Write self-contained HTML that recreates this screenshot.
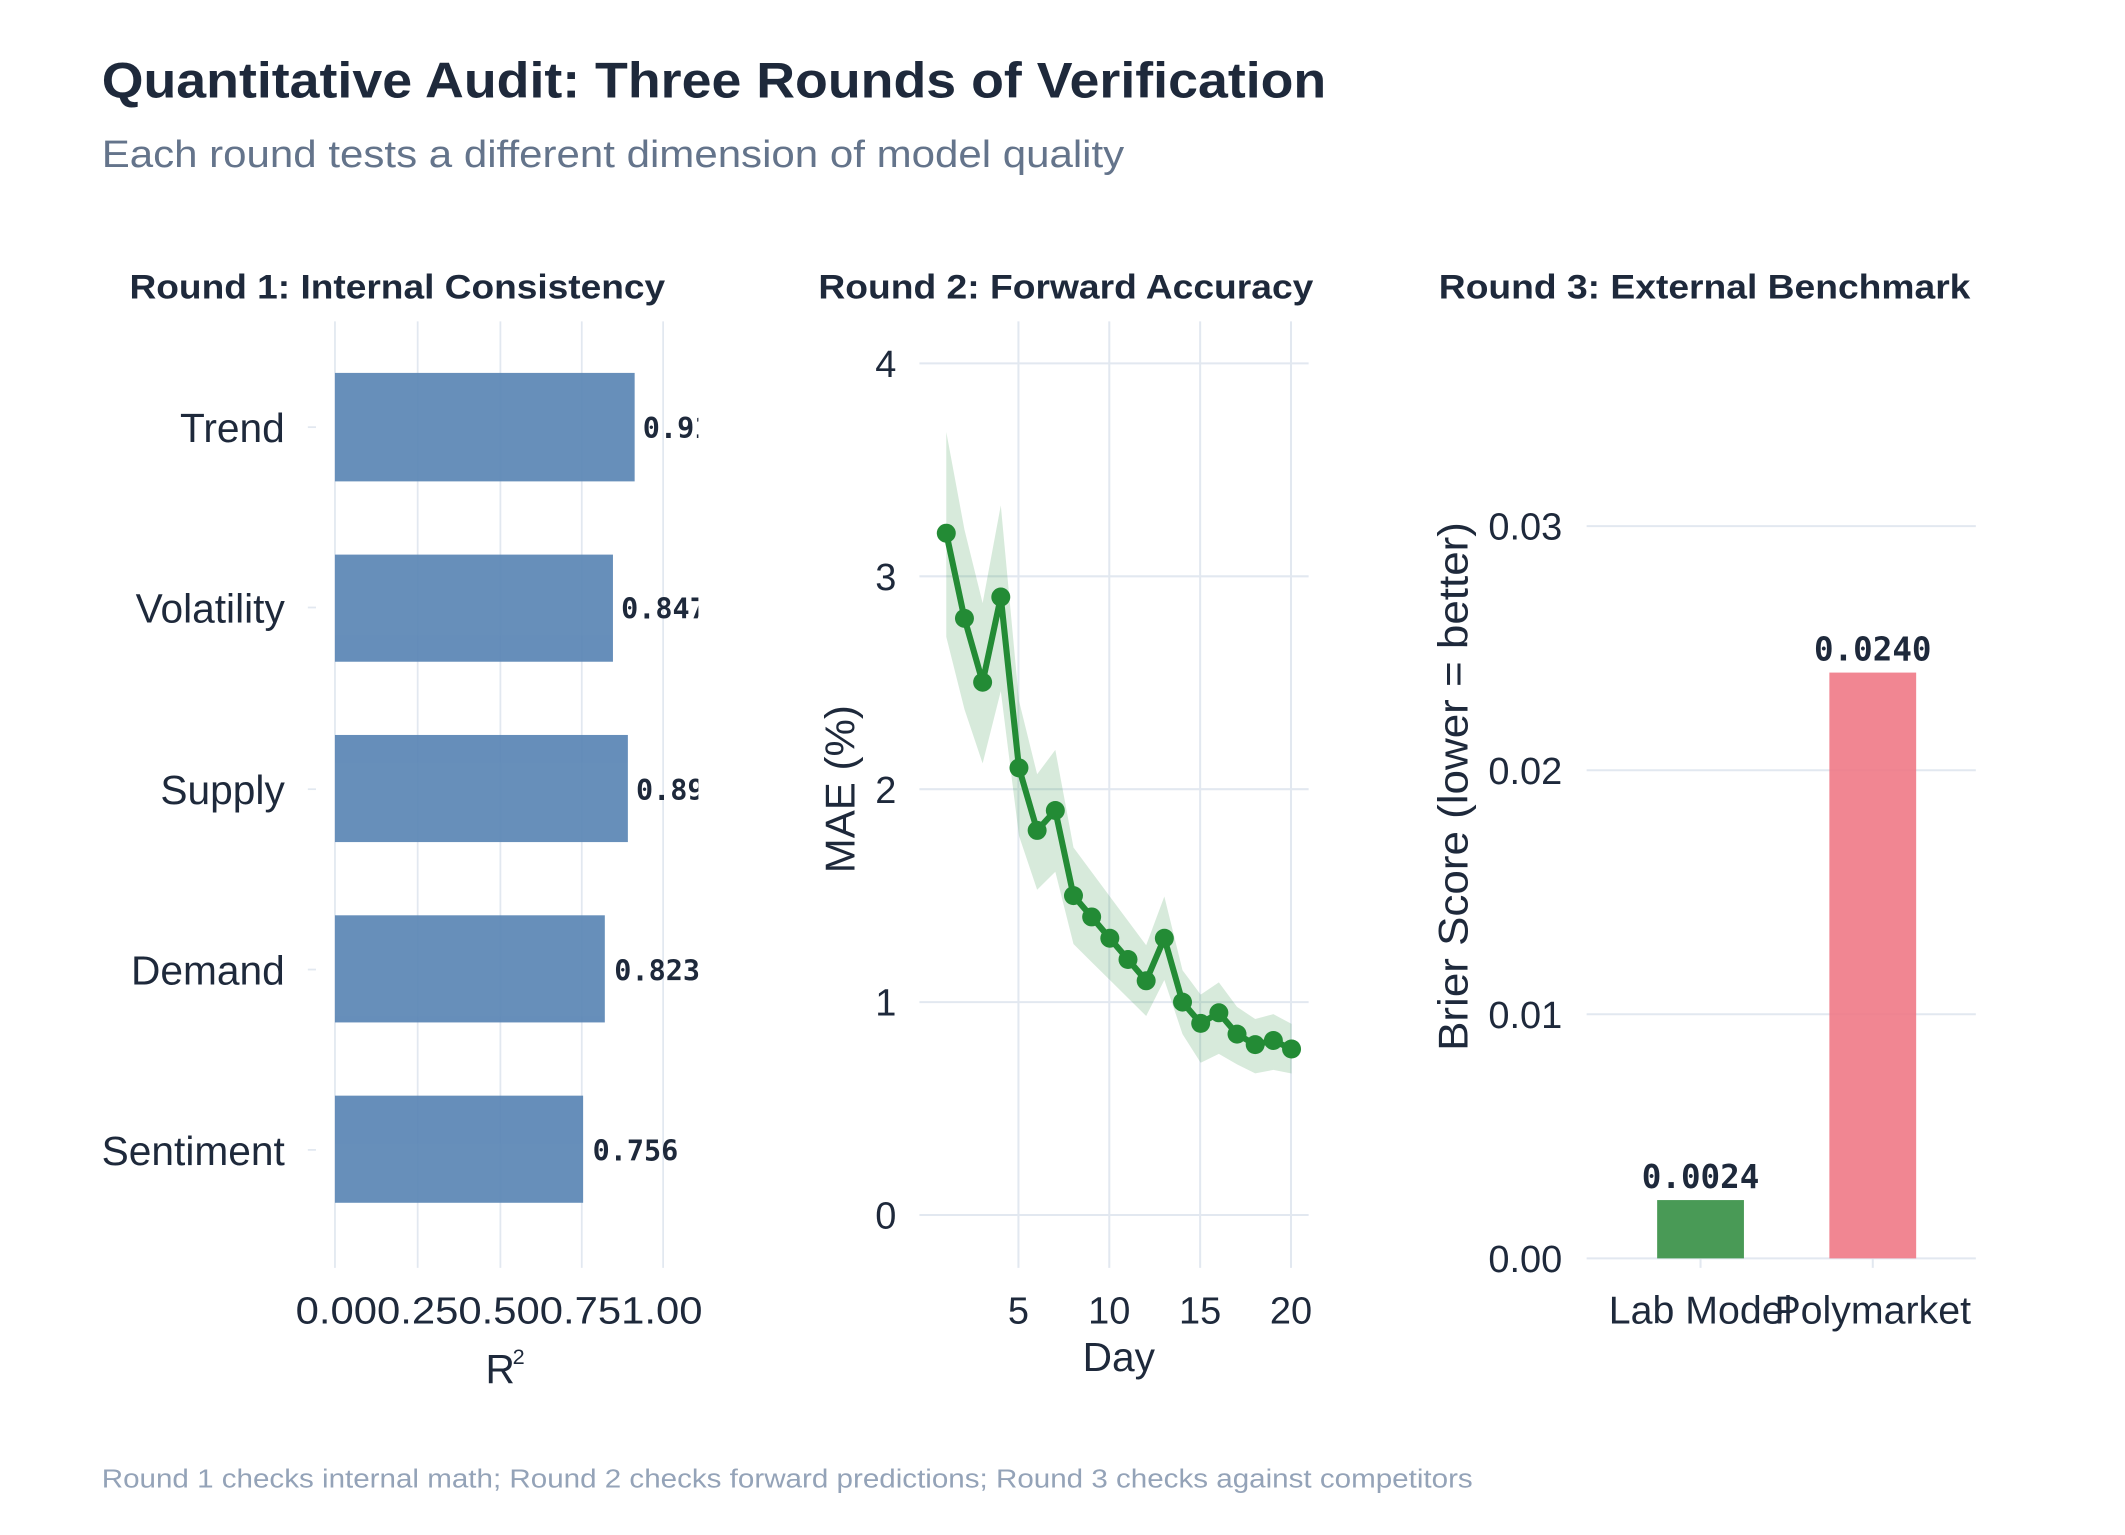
<!DOCTYPE html>
<html><head><meta charset="utf-8"><style>
html,body{margin:0;padding:0;background:#fff;}
svg{display:block;}
text{font-family:"Liberation Sans",sans-serif;}
.mono{font-family:"DejaVu Sans Mono","Liberation Mono",monospace;font-weight:bold;}
</style></head><body>
<svg width="2125" height="1535" viewBox="0 0 1567 1132" preserveAspectRatio="none" xmlns="http://www.w3.org/2000/svg">
<rect width="1567" height="1132" fill="#fff"/>
<text x="75" y="72" font-size="37" font-weight="bold" fill="#1e293b" textLength="903" lengthAdjust="spacingAndGlyphs">Quantitative Audit: Three Rounds of Verification</text>
<text x="75" y="123" font-size="28" fill="#64748b" textLength="754" lengthAdjust="spacingAndGlyphs">Each round tests a different dimension of model quality</text>
<text x="75" y="1097" font-size="19" fill="#94a3b8" textLength="1011" lengthAdjust="spacingAndGlyphs">Round 1 checks internal math; Round 2 checks forward predictions; Round 3 checks against competitors</text>

<!-- Panel 1 -->
<text x="293" y="220" font-size="25" font-weight="bold" fill="#1e293b" text-anchor="middle" textLength="395" lengthAdjust="spacingAndGlyphs">Round 1: Internal Consistency</text>
<g stroke="#e2e8f0" stroke-width="1.3">
<line x1="247" y1="237" x2="247" y2="935"/><line x1="308" y1="237" x2="308" y2="935"/>
<line x1="369" y1="237" x2="369" y2="935"/><line x1="429" y1="237" x2="429" y2="935"/>
<line x1="489" y1="237" x2="489" y2="935"/>
<line x1="227" y1="315" x2="233" y2="315"/><line x1="227" y1="448" x2="233" y2="448"/>
<line x1="227" y1="582" x2="233" y2="582"/><line x1="227" y1="715" x2="233" y2="715"/>
<line x1="227" y1="848" x2="233" y2="848"/>
</g>
<g fill="#5b86b5" opacity="0.93">
<rect x="247" y="275" width="221" height="80"/>
<rect x="247" y="409" width="205" height="79"/>
<rect x="247" y="542" width="216" height="79"/>
<rect x="247" y="675" width="199" height="79"/>
<rect x="247" y="808" width="183" height="79"/>
</g>
<defs><clipPath id="c1"><rect x="240" y="230" width="275" height="720"/></clipPath></defs>
<g clip-path="url(#c1)" font-size="21" fill="#1e293b">
<text x="474" y="323" class="mono">0.910</text>
<text x="458" y="456" class="mono">0.847</text>
<text x="469" y="590" class="mono">0.892</text>
<text x="453" y="723" class="mono">0.823</text>
<text x="437" y="856" class="mono">0.756</text>
</g>
<g font-size="30" fill="#1e293b" text-anchor="end">
<text x="210" y="326">Trend</text><text x="210" y="459">Volatility</text>
<text x="210" y="593">Supply</text><text x="210" y="726">Demand</text>
<text x="210" y="859">Sentiment</text>
</g>
<text x="368" y="976" font-size="28" fill="#1e293b" text-anchor="middle" textLength="300" lengthAdjust="spacingAndGlyphs">0.000.250.500.751.00</text>
<text x="358" y="1020" font-size="30" fill="#1e293b">R</text><text x="378" y="1006" font-size="16" fill="#1e293b">2</text>

<!-- Panel 2 -->
<text x="786" y="220" font-size="25" font-weight="bold" fill="#1e293b" text-anchor="middle" textLength="365" lengthAdjust="spacingAndGlyphs">Round 2: Forward Accuracy</text>
<g stroke="#e2e8f0" stroke-width="1.5">
<line x1="678" y1="268" x2="965" y2="268"/><line x1="678" y1="425" x2="965" y2="425"/>
<line x1="678" y1="582" x2="965" y2="582"/><line x1="678" y1="739" x2="965" y2="739"/>
<line x1="678" y1="896" x2="965" y2="896"/>
<line x1="751" y1="237" x2="751" y2="935"/><line x1="818" y1="237" x2="818" y2="935"/>
<line x1="885" y1="237" x2="885" y2="935"/><line x1="952" y1="237" x2="952" y2="935"/>
</g>
<g font-size="28" fill="#1e293b" text-anchor="end">
<text x="661" y="278">4</text><text x="661" y="435">3</text><text x="661" y="592">2</text>
<text x="661" y="749">1</text><text x="661" y="906">0</text>
</g>
<g font-size="28" fill="#1e293b" text-anchor="middle">
<text x="751" y="976">5</text><text x="818" y="976">10</text><text x="885" y="976">15</text><text x="952" y="976">20</text>
<text x="825" y="1011" font-size="30">Day</text>
</g>
<text transform="translate(630,582) rotate(-90)" font-size="31" fill="#1e293b" text-anchor="middle">MAE (%)</text>
<polygon fill="#238b35" fill-opacity="0.18" points="697.8,318.6 711.2,390.6 724.6,444.8 738.0,372.7 751.4,516.8 764.8,571.0 778.2,553.0 791.6,625.0 805.0,643.1 818.4,661.1 831.8,679.1 845.2,697.1 858.6,661.1 872.0,715.5 885.4,733.5 898.8,724.5 912.2,742.5 925.6,751.5 939.0,747.9 952.4,755.1 952.4,791.7 939.0,789.0 925.6,791.6 912.2,784.9 898.8,777.2 885.4,783.7 872.0,762.6 858.6,722.7 845.2,749.3 831.8,736.0 818.4,722.7 805.0,709.5 791.6,696.2 778.2,642.9 764.8,656.2 751.4,616.3 738.0,509.7 724.6,563.0 711.2,523.0 697.8,469.7"/>
<polyline fill="none" stroke="#238b35" stroke-width="4.5" stroke-linejoin="round" points="697.8,393.2 711.2,456.0 724.6,503.1 738.0,440.3 751.4,566.3 764.8,612.4 778.2,597.7 791.6,660.5 805.0,676.2 818.4,691.9 831.8,707.6 845.2,723.3 858.6,691.9 872.0,739.0 885.4,754.7 898.8,746.9 912.2,762.6 925.6,770.4 939.0,767.3 952.4,773.6"/>
<g fill="#238b35">
<circle cx="697.8" cy="393.2" r="7"/><circle cx="711.2" cy="456.0" r="7"/><circle cx="724.6" cy="503.1" r="7"/><circle cx="738.0" cy="440.3" r="7"/><circle cx="751.4" cy="566.3" r="7"/><circle cx="764.8" cy="612.4" r="7"/><circle cx="778.2" cy="597.7" r="7"/><circle cx="791.6" cy="660.5" r="7"/><circle cx="805.0" cy="676.2" r="7"/><circle cx="818.4" cy="691.9" r="7"/><circle cx="831.8" cy="707.6" r="7"/><circle cx="845.2" cy="723.3" r="7"/><circle cx="858.6" cy="691.9" r="7"/><circle cx="872.0" cy="739.0" r="7"/><circle cx="885.4" cy="754.7" r="7"/><circle cx="898.8" cy="746.9" r="7"/><circle cx="912.2" cy="762.6" r="7"/><circle cx="925.6" cy="770.4" r="7"/><circle cx="939.0" cy="767.3" r="7"/><circle cx="952.4" cy="773.6" r="7"/>
</g>

<!-- Panel 3 -->
<text x="1257" y="220" font-size="25" font-weight="bold" fill="#1e293b" text-anchor="middle" textLength="392" lengthAdjust="spacingAndGlyphs">Round 3: External Benchmark</text>
<g stroke="#e2e8f0" stroke-width="1.5">
<line x1="1170" y1="388" x2="1457" y2="388"/><line x1="1170" y1="568" x2="1457" y2="568"/>
<line x1="1170" y1="748" x2="1457" y2="748"/><line x1="1170" y1="928" x2="1457" y2="928"/>
<line x1="1254" y1="928" x2="1254" y2="935"/><line x1="1381" y1="928" x2="1381" y2="935"/>
</g>
<g font-size="28" fill="#1e293b" text-anchor="end">
<text x="1152" y="398">0.03</text><text x="1152" y="578">0.02</text>
<text x="1152" y="758">0.01</text><text x="1152" y="938">0.00</text>
</g>
<rect x="1222" y="885" width="64" height="43" fill="#3a9148" opacity="0.92"/>
<rect x="1349" y="496" width="64" height="432" fill="#ef7583" opacity="0.88"/>
<text x="1254" y="876" font-size="24" class="mono" fill="#1e293b" text-anchor="middle">0.0024</text>
<text x="1381" y="487" font-size="24" class="mono" fill="#1e293b" text-anchor="middle">0.0240</text>
<g font-size="29" fill="#1e293b" text-anchor="middle">
<text x="1254" y="976">Lab Model</text><text x="1381" y="976">Polymarket</text>
</g>
<text transform="translate(1082,580) rotate(-90)" font-size="31" fill="#1e293b" text-anchor="middle" textLength="390" lengthAdjust="spacingAndGlyphs">Brier Score (lower = better)</text>
</svg>
</body></html>
